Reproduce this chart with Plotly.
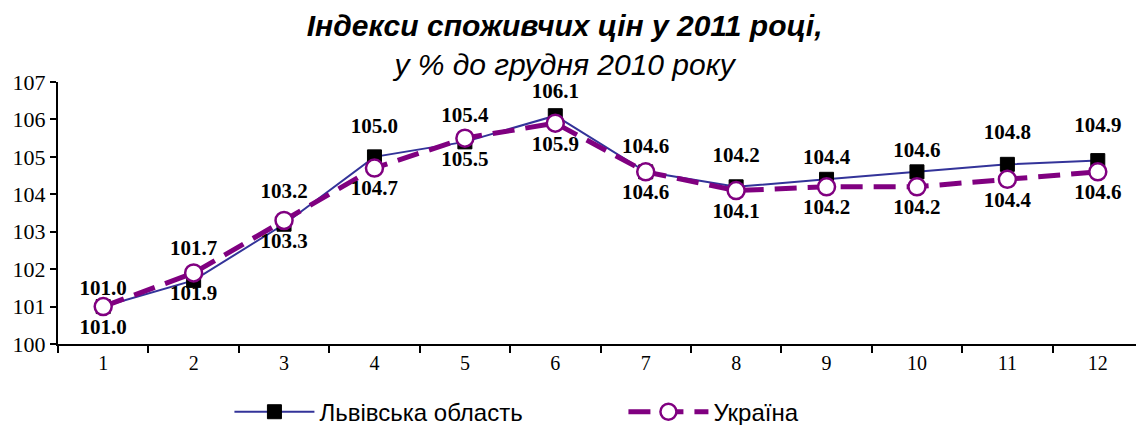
import plotly.graph_objects as go

months = ["1", "2", "3", "4", "5", "6", "7", "8", "9", "10", "11", "12"]
lviv = [101.0, 101.7, 103.2, 105.0, 105.4, 106.1, 104.6, 104.2, 104.4, 104.6, 104.8, 104.9]
ukraine = [101.0, 101.9, 103.3, 104.7, 105.5, 105.9, 104.6, 104.1, 104.2, 104.2, 104.4, 104.6]
y_ticks = [100, 101, 102, 103, 104, 105, 106, 107]

# styling only: spacing of each Lviv label above its marker
lviv_label_gap = [9, 30, 32, 28, 22, 18, 20, 30, 14, 14, 30, 36]

serif = "Liberation Serif, Times New Roman, serif"
sans = "Liberation Sans, Arial, sans-serif"
label_font = dict(family=serif, size=21, color="black")

fig = go.Figure()
fig.add_trace(go.Scatter(
    x=months, y=lviv, name="Львівська область",
    mode="lines+markers",
    line=dict(color="#333399", width=2),
    marker=dict(symbol="square", size=14, color="black", line=dict(color="black", width=1)),
))
fig.add_trace(go.Scatter(
    x=months, y=ukraine, name="Україна",
    mode="lines+markers+text",
    line=dict(color="#800080", width=5, dash="22px,11px"),
    marker=dict(symbol="circle", size=17, color="white", line=dict(color="#800080", width=2.5)),
    text=[f"<b>{v:.1f}</b>" for v in ukraine], textposition="bottom center",
    textfont=label_font, cliponaxis=False,
))
# Lviv value labels above the markers
fig.add_trace(go.Scatter(
    x=months, y=lviv, mode="text+markers", showlegend=False, hoverinfo="skip",
    marker=dict(size=lviv_label_gap, opacity=0),
    text=[f"<b>{v:.1f}</b>" for v in lviv], textposition="top center",
    textfont=label_font, cliponaxis=False,
))

# the page body has an 8px margin, so the figure is sized to fit the window
fig.update_layout(
    width=1136, height=417,
    margin=dict(l=50, r=1, t=74, b=81, autoexpand=False),
    paper_bgcolor="white", plot_bgcolor="white",
    title=dict(
        text="<b><i>Індекси споживчих цін у 2011 році,</i></b><br><i>у % до грудня 2010 року</i>",
        x=0.49, xanchor="center", yref="container", y=0.933, yanchor="middle",
        font=dict(family=sans, size=30, color="black"),
    ),
    showlegend=True,
    legend=dict(
        orientation="h", x=0.158, xanchor="left", y=-0.26, yanchor="middle",
        font=dict(family=sans, size=24, color="black"),
        itemwidth=80, traceorder="normal", entrywidthmode="pixels", entrywidth=299,
        bgcolor="rgba(0,0,0,0)",
    ),
)
fig.update_xaxes(
    type="category", range=[-0.5, 11.5], automargin=False,
    showline=True, linecolor="black", linewidth=2,
    ticks="outside", tickson="boundaries", ticklen=7, tickwidth=2, tickcolor="black",
    showgrid=False, zeroline=False,
    tickfont=dict(family=serif, size=20, color="black"),
)
fig.update_yaxes(
    range=[100, 107], tickvals=y_ticks, automargin=False,
    showline=True, linecolor="black", linewidth=2,
    ticks="outside", ticklen=6, tickwidth=2, tickcolor="black",
    showgrid=False, zeroline=False,
    tickfont=dict(family=serif, size=22, color="black"),
)

fig.write_html("out.html")
